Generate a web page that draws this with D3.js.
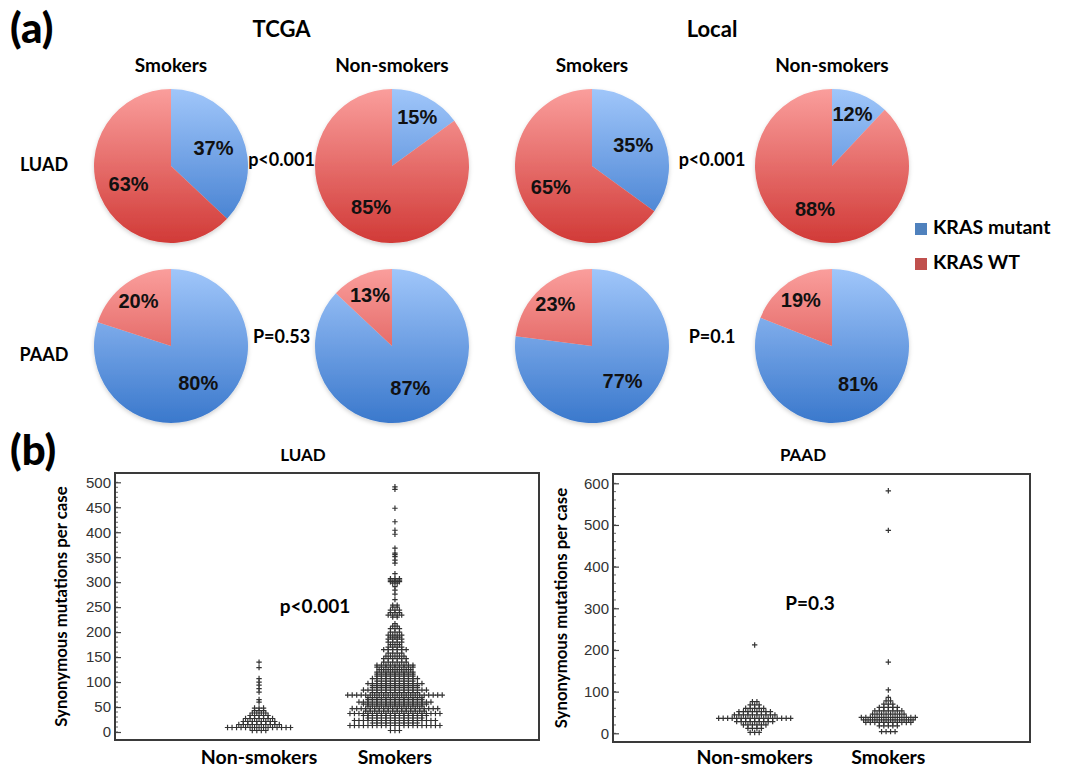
<!DOCTYPE html>
<html>
<head>
<meta charset="utf-8">
<script src="https://cdn.jsdelivr.net/npm/d3@7"></script>
<style>
  html, body { margin: 0; padding: 0; background: #fff; }
  svg { display: block; }
</style>
</head>
<body>
<svg id="chart" width="1077" height="769"></svg>
<script>
// ---------------- DATA ----------------
const pieGroups = ["TCGA", "Local"];
const pieColumns = ["Smokers", "Non-smokers", "Smokers", "Non-smokers"];
const pieRows = ["LUAD", "PAAD"];
const legendLabels = ["KRAS mutant", "KRAS WT"];
// KRAS mutant % per pie [row][col]
const mutantPct = [
  [37, 15, 35, 12],
  [80, 87, 77, 81]
];
// KRAS WT % per pie [row][col]
const wtPct = [
  [63, 85, 65, 88],
  [20, 13, 23, 19]
];
const pieP = [
  ["p<0.001", "p<0.001"],
  ["P=0.53", "P=0.1"]
];

// Panel (b): [value, count] rows of the dot plots
const swarmCats = ["Non-smokers", "Smokers"];
const luadNonSmokers = [[3,4],[9,15],[15,10],[21,8],[27,7],[33,5],[38,4],[43,3],[48,3],[60,1],[65,1],[80,1],[87,1],[94,1],[100,1],[107,1],[129,1],[140,1]];
const luadSmokers = [[3,3],[13,21],[18,11],[23,19],[28,13],[33,15],[37,21],[42,14],[47,20],[52,13],[56,15],[60,17],[65,13],[69,13],[74,22],[79,11],[84,15],[89,11],[93,11],[97,13],[102,9],[107,11],[112,9],[116,9],[120,9],[125,8],[130,9],[134,9],[140,6],[147,6],[152,5],[158,4],[165,6],[170,4],[175,3],[180,4],[186,4],[190,3],[194,4],[200,3],[207,3],[212,2],[217,1],[230,2],[234,4],[239,3],[244,3],[250,2],[254,2],[265,1],[276,1],[284,1],[291,1],[298,2],[301,3],[304,3],[307,3],[317,1],[338,1],[344,1],[351,1],[355,1],[358,1],[368,1],[396,1],[404,1],[421,1],[448,1],[486,1],[491,1]];
const paadNonSmokers = [[2,3],[12,4],[20,6],[28,9],[36,17],[44,10],[52,8],[60,5],[68,3],[76,2],[212,1]];
const paadSmokers = [[4,4],[18,5],[26,11],[32,12],[38,13],[46,8],[54,7],[62,5],[70,3],[78,2],[86,1],[104,1],[171,1],[487,1],[582,1]];

const luadTicks = [0,50,100,150,200,250,300,350,400,450,500];
const paadTicks = [0,100,200,300,400,500,600];
const swarmP = ["p<0.001", "P=0.3"];
const swarmTitles = ["LUAD", "PAAD"];
const yAxisTitle = "Synonymous mutations per case";

// ---------------- LAYOUT ----------------
const svg = d3.select("#chart");
const TITLE_FONT = "Lato, 'Open Sans', sans-serif";
const NUM_FONT = "'Liberation Sans', Arial, sans-serif";

const colX = [171, 392, 592, 832];
const rowY = [166, 346];
const R = 77;

const defs = svg.append("defs");
function grad(id, top, bottom) {
  const g = defs.append("linearGradient").attr("id", id)
    .attr("gradientUnits", "userSpaceOnUse")
    .attr("x1", 0).attr("y1", -R).attr("x2", 0).attr("y2", R);
  g.append("stop").attr("offset", "0%").attr("stop-color", top);
  g.append("stop").attr("offset", "100%").attr("stop-color", bottom);
}
grad("gBlue", "#a0c6fa", "#3a78cc");
grad("gRed", "#fa9e9c", "#d13a37");
const shadow = defs.append("filter").attr("id", "shadow").attr("x", "-20%").attr("y", "-20%").attr("width", "140%").attr("height", "140%");
shadow.append("feDropShadow").attr("dx", 0).attr("dy", 2).attr("stdDeviation", 2).attr("flood-color", "#000").attr("flood-opacity", 0.18);

// (a) label
svg.append("text").attr("x", 10).attr("y", 43)
  .attr("font-family", TITLE_FONT).attr("font-weight", 900).attr("font-size", 42)
  .text("(a)");

// group titles
pieGroups.forEach((g, i) => {
  svg.append("text").attr("x", (colX[i*2] + colX[i*2+1]) / 2).attr("y", 37)
    .attr("text-anchor", "middle")
    .attr("font-family", TITLE_FONT).attr("font-weight", 700).attr("font-size", 22)
    .text(g);
});
pieColumns.forEach((c, i) => {
  svg.append("text").attr("x", colX[i]).attr("y", 72)
    .attr("text-anchor", "middle")
    .attr("font-family", TITLE_FONT).attr("font-weight", 700).attr("font-size", 19)
    .text(c);
});
const rowLabelDy = [0, 10];
pieRows.forEach((r, i) => {
  svg.append("text").attr("x", 44).attr("y", rowY[i] + rowLabelDy[i])
    .attr("text-anchor", "middle").attr("dominant-baseline", "middle")
    .attr("font-family", TITLE_FONT).attr("font-weight", 700).attr("font-size", 18)
    .text(r);
});

const pie = d3.pie().sort(null).value(d => d.v);
const arc = d3.arc().innerRadius(0).outerRadius(R);

pieRows.forEach((row, ri) => {
  colX.forEach((cx, ci) => {
    const data = [
      { k: "mut", v: mutantPct[ri][ci] },
      { k: "wt", v: wtPct[ri][ci] }
    ];
    const g = svg.append("g").attr("transform", `translate(${cx},${rowY[ri]})`);
    const arcs = pie(data);
    const pg = g.append("g").attr("filter", "url(#shadow)");
    pg.selectAll("path").data(arcs).join("path")
      .attr("d", arc)
      .attr("fill", d => d.data.k === "mut" ? "url(#gBlue)" : "url(#gRed)");
    g.selectAll("text").data(arcs).join("text")
      .attr("transform", d => {
        const frac = d.data.v / 100;
        const rr = frac < 0.25 ? R * 0.72 : R * 0.6;
        const a = (d.startAngle + d.endAngle) / 2;
        return `translate(${Math.sin(a) * rr},${-Math.cos(a) * rr})`;
      })
      .attr("text-anchor", "middle").attr("dominant-baseline", "central")
      .attr("font-family", NUM_FONT).attr("font-weight", 700).attr("font-size", 20)
      .attr("fill", "#111")
      .text(d => d.data.v + "%");
  });
  // p values between pies
  pieGroups.forEach((gname, gi) => {
    svg.append("text")
      .attr("x", (colX[gi*2] + colX[gi*2+1]) / 2)
      .attr("y", rowY[ri] - 5 - ri * 3)
      .attr("text-anchor", "middle").attr("dominant-baseline", "middle")
      .attr("font-family", TITLE_FONT).attr("font-weight", 700).attr("font-size", 18)
      .text(pieP[ri][gi]);
  });
});

// legend
const legColors = ["#4f81bd", "#c0504d"];
const legY = [229, 264];
legendLabels.forEach((l, i) => {
  svg.append("rect").attr("x", 915).attr("y", legY[i] - 6).attr("width", 12).attr("height", 12)
    .attr("fill", legColors[i]);
  svg.append("text").attr("x", 933).attr("y", legY[i])
    .attr("dominant-baseline", "middle")
    .attr("font-family", TITLE_FONT).attr("font-weight", 700).attr("font-size", 19.5)
    .text(l);
});

// (b) label
svg.append("text").attr("x", 10).attr("y", 465)
  .attr("font-family", TITLE_FONT).attr("font-weight", 900).attr("font-size", 42)
  .text("(b)");

// ---------------- DOT PLOTS ----------------
const plots = [
  { title: swarmTitles[0], box: [115, 473, 539, 740], domain: [0, 500], range: [732, 482.3],
    ticks: luadTicks, minor: 10, series: [luadNonSmokers, luadSmokers], p: swarmP[0], pPos: [315, 608], titleX: 303, ytx: 63 },
  { title: swarmTitles[1], box: [613, 474, 1030, 742], domain: [0, 600], range: [733.3, 483.3],
    ticks: paadTicks, minor: 20, series: [paadNonSmokers, paadSmokers], p: swarmP[1], pPos: [810, 605], titleX: 803, ytx: 563 }
];
const DX = 4.5;
const plus = "M-2.7,0H2.7M0,-2.7V2.7";

plots.forEach(pl => {
  const [x0, y0, x1, y1] = pl.box;
  const y = d3.scaleLinear().domain(pl.domain).range(pl.range);
  const x = d3.scalePoint().domain(swarmCats).range([x0, x1]).padding(1.06);

  svg.append("text").attr("x", pl.titleX).attr("y", 461)
    .attr("text-anchor", "middle")
    .attr("font-family", TITLE_FONT).attr("font-weight", 700).attr("font-size", 17)
    .text(pl.title);

  // minor ticks
  const minorVals = d3.range(pl.domain[0], pl.domain[1] + 0.001, pl.minor);
  svg.append("g").selectAll("line").data(minorVals).join("line")
    .attr("x1", x0).attr("x2", x0 + 3)
    .attr("y1", d => y(d)).attr("y2", d => y(d))
    .attr("stroke", "#666").attr("stroke-width", 1);

  // major axis
  const ax = svg.append("g").attr("transform", `translate(${x0},0)`)
    .call(d3.axisRight(y).tickValues(pl.ticks).tickSize(6).tickFormat(d3.format("d")));
  ax.select(".domain").remove();
  ax.selectAll(".tick line").attr("stroke", "#444").attr("stroke-width", 1.2);
  ax.selectAll(".tick text")
    .attr("x", -4).attr("text-anchor", "end")
    .attr("font-family", NUM_FONT).attr("font-size", 15).attr("fill", "#333");

  // box
  svg.append("rect").attr("x", x0).attr("y", y0).attr("width", x1 - x0).attr("height", y1 - y0)
    .attr("fill", "none").attr("stroke", "#3a3a3a").attr("stroke-width", 2);

  // y title
  svg.append("text")
    .attr("transform", `translate(${pl.ytx},${(y0 + y1) / 2}) rotate(-90)`)
    .attr("text-anchor", "middle").attr("dominant-baseline", "middle")
    .attr("font-family", TITLE_FONT).attr("font-weight", 700).attr("font-size", 16.8)
    .text(yAxisTitle);

  // x labels
  swarmCats.forEach(c => {
    svg.append("text").attr("x", x(c)).attr("y", 764)
      .attr("text-anchor", "middle")
      .attr("font-family", TITLE_FONT).attr("font-weight", 700).attr("font-size", 19.5)
      .text(c);
  });

  // points
  pl.series.forEach((rows, si) => {
    const cx = x(swarmCats[si]);
    const pts = [];
    rows.forEach(([v, n]) => {
      for (let i = 0; i < n; i++) pts.push({ v, off: (i - (n - 1) / 2) * DX });
    });
    svg.append("g").selectAll("path").data(pts).join("path")
      .attr("d", plus)
      .attr("transform", d => `translate(${cx + d.off},${y(d.v)})`)
      .attr("stroke", "#333").attr("stroke-width", 1.2).attr("fill", "none");
  });

  svg.append("text").attr("x", pl.pPos[0]).attr("y", pl.pPos[1])
    .attr("text-anchor", "middle").attr("dominant-baseline", "middle")
    .attr("font-family", TITLE_FONT).attr("font-weight", 700).attr("font-size", 19)
    .text(pl.p);
});
</script>
</body>
</html>
